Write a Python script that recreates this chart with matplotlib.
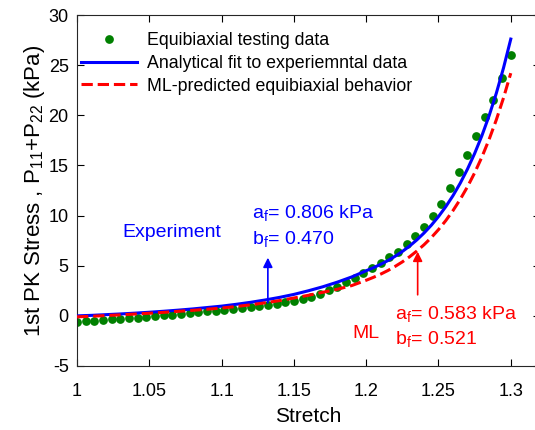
import matplotlib
matplotlib.use("Agg")
import matplotlib.pyplot as plt

plt.rcParams['font.family'] = ['Liberation Sans', 'DejaVu Sans']
plt.rcParams['mathtext.fontset'] = 'custom'
plt.rcParams['mathtext.rm'] = 'Liberation Sans'

# Experimental points (stretch, stress kPa)
exp_stretch = [1.000, 1.006, 1.012, 1.018, 1.024, 1.030, 1.036, 1.042, 1.048, 1.054,
               1.060, 1.066, 1.072, 1.078, 1.084, 1.090, 1.096, 1.102, 1.108, 1.114,
               1.120, 1.126, 1.132, 1.138, 1.144, 1.150, 1.156, 1.162, 1.168, 1.174,
               1.180, 1.186, 1.192, 1.198, 1.204, 1.210, 1.216, 1.222, 1.228, 1.234,
               1.240, 1.246, 1.252, 1.258, 1.264, 1.270, 1.276, 1.282, 1.288, 1.294,
               1.300]
exp_stress = [-0.60, -0.50, -0.47, -0.42, -0.35, -0.28, -0.25, -0.18, -0.10, -0.05,
              0.05, 0.12, 0.22, 0.30, 0.38, 0.45, 0.52, 0.60, 0.68, 0.78,
              0.88, 0.98, 1.10, 1.22, 1.35, 1.45, 1.65, 1.90, 2.20, 2.55,
              2.90, 3.35, 3.75, 4.25, 4.80, 5.25, 5.85, 6.40, 7.15, 8.00,
              8.90, 10.0, 11.2, 12.7, 14.3, 16.0, 17.9, 19.8, 21.5, 23.7,
              26.0]

# Curves
fit_stretch = [1.00, 1.01, 1.02, 1.03, 1.04, 1.05, 1.06, 1.07, 1.08, 1.09,
               1.10, 1.11, 1.12, 1.13, 1.14, 1.15, 1.16, 1.17, 1.18, 1.19,
               1.200, 1.205, 1.210, 1.215, 1.220, 1.225, 1.230, 1.235, 1.240, 1.245,
               1.250, 1.255, 1.260, 1.265, 1.270, 1.275, 1.280, 1.285, 1.290, 1.295,
               1.300]
fit_stress = [0.00, 0.05, 0.12, 0.19, 0.27, 0.36, 0.46, 0.57, 0.69, 0.83,
              0.97, 1.15, 1.35, 1.58, 1.84, 2.14, 2.50, 2.90, 3.36, 3.88,
              4.50, 4.80, 5.14, 5.51, 5.94, 6.42, 6.96, 7.57, 8.26, 9.03,
              9.90, 10.88, 11.98, 13.22, 14.62, 16.19, 17.96, 19.95, 22.20, 24.74,
              27.60]
ml_stress = [-0.10, -0.04, 0.03, 0.10, 0.18, 0.26, 0.35, 0.45, 0.55, 0.66,
             0.78, 0.93, 1.10, 1.30, 1.52, 1.78, 2.05, 2.35, 2.65, 3.02,
             3.55, 3.84, 4.16, 4.52, 4.93, 5.38, 5.89, 6.46, 7.09, 7.80,
             8.60, 9.49, 10.49, 11.61, 12.86, 14.26, 15.83, 17.59, 19.55, 21.75,
             24.20]

xticks = [1, 1.05, 1.1, 1.15, 1.2, 1.25, 1.3]
xticklabels = ['1', '1.05', '1.1', '1.15', '1.2', '1.25', '1.3']
yticks = [-5, 0, 5, 10, 15, 20, 25, 30]

fig = plt.figure(figsize=(5.35, 4.3), dpi=100)
ax = fig.add_axes([77/535, 1-366/430, (539.7-77)/535, (366-15)/430])

ax.plot(exp_stretch, exp_stress, 'o', color=(0, 0.5, 0), markersize=6.3,
        markeredgewidth=0, label='Equibiaxial testing data', zorder=2)
ax.plot(fit_stretch, fit_stress, '-', color='#0000ff', lw=2.2,
        label='Analytical fit to experiemntal data', zorder=3)
ax.plot(fit_stretch, ml_stress, '--', color='#ff0000', lw=2.2,
        label='ML-predicted equibiaxial behavior', zorder=4)

ax.set_xlim(1, 1.32)
ax.set_ylim(-5, 30)
ax.set_xticks(xticks)
ax.set_xticklabels(xticklabels)
ax.set_yticks(yticks)
ax.set_yticklabels([str(v) for v in yticks])
ax.tick_params(direction='in', top=True, right=True, labelsize=13, length=5,
               width=0.8, colors='black')
ax.tick_params(axis='x', pad=12)
ax.tick_params(axis='y', pad=6)
for sp in ax.spines.values():
    sp.set_linewidth(0.8)
    sp.set_color('#262626')

ax.set_xlabel('Stretch', fontsize=15, labelpad=5)
ax.set_ylabel(r'1st PK Stress , P$_\mathregular{11}$+P$_\mathregular{22}$ (kPa)',
              fontsize=16, labelpad=1)

leg = ax.legend(loc='upper left', frameon=False, fontsize=12.8,
                handlelength=3.2, handletextpad=0.55, labelspacing=0.33,
                borderaxespad=0.0, borderpad=0.2, bbox_to_anchor=(0.0, 0.962))

# Annotations
ax.annotate('', xy=(1.132, 5.8), xytext=(1.132, 1.3),
            arrowprops=dict(arrowstyle='-|>', color='#0000ff', lw=1.2,
                            mutation_scale=14, shrinkA=0, shrinkB=0))
ax.annotate('', xy=(1.2356, 6.4), xytext=(1.2356, 2.1),
            arrowprops=dict(arrowstyle='-|>', color='#ff0000', lw=1.2,
                            mutation_scale=14, shrinkA=0, shrinkB=0))

ax.text(1.0657, 8.3, 'Experiment', color='#0000ff', fontsize=14,
        ha='center', va='center')
ax.text(1.121, 10.2, r'a$_\mathregular{f}$= 0.806 kPa', color='#0000ff',
        fontsize=14, ha='left', va='center')
ax.text(1.121, 7.6, r'b$_\mathregular{f}$= 0.470', color='#0000ff',
        fontsize=14, ha='left', va='center')
ax.text(1.2, -1.73, 'ML', color='#ff0000', fontsize=14, ha='center', va='center')
ax.text(1.22, 0.1, r'a$_\mathregular{f}$= 0.583 kPa', color='#ff0000',
        fontsize=14, ha='left', va='center')
ax.text(1.22, -2.4, r'b$_\mathregular{f}$= 0.521', color='#ff0000',
        fontsize=14, ha='left', va='center')

fig.savefig('out.png', dpi=100)
